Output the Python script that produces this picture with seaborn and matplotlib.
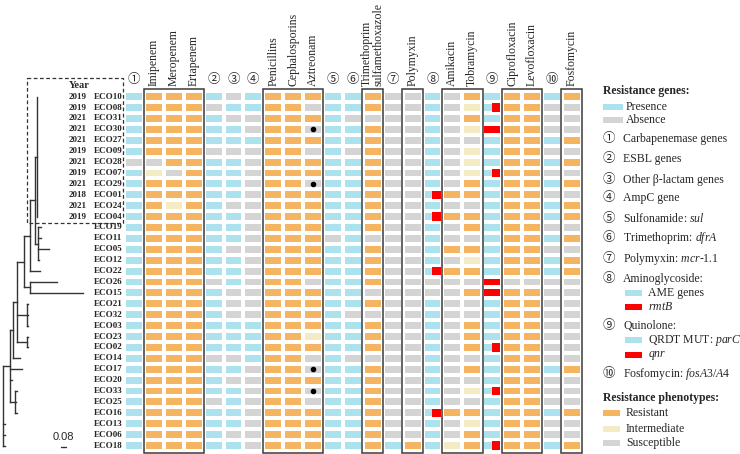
"""Core-genome tree with resistance genes and phenotypes of E. coli isolates"""
import matplotlib
matplotlib.use("Agg")
import matplotlib.pyplot as plt
from matplotlib.colors import ListedColormap
from matplotlib.patches import Rectangle
from matplotlib.transforms import blended_transform_factory
import pandas as pd
import seaborn as sns


BLUE = "#abe2ee"
GRAY = "#d4d4d4"
ORANGE = "#f4b462"
BEIGE = "#f2ebc3"
RED = "#ff0000"
LINE = "#333333"

SAMPLES = ["ECO10", "ECO08", "ECO31", "ECO30", "ECO27", "ECO09", "ECO28",
           "ECO07", "ECO29", "ECO01", "ECO24", "ECO04", "ECO19", "ECO11",
           "ECO05", "ECO12", "ECO22", "ECO26", "ECO15", "ECO21", "ECO32",
           "ECO03", "ECO23", "ECO02", "ECO14", "ECO17", "ECO20", "ECO33",
           "ECO25", "ECO16", "ECO13", "ECO06", "ECO18"]
YEARS = ["2019", "2019", "2021", "2021", "2021", "2019", "2021", "2019",
         "2021", "2018", "2021", "2019"]

COLUMNS = ["①", "Imipenem", "Meropenem", "Ertapenem", "②", "③", "④",
           "Penicillins", "Cephalosporins", "Aztreonam", "⑤", "⑥",
           "Trimethoprim\nsulfamethoxazole", "⑦", "Polymyxin", "⑧",
           "Amikacin", "Tobramycin", "⑨", "Ciprofloxacin", "Levofloxacin",
           "⑩", "Fosfomycin"]
GENE_COLUMNS = ["①", "②", "③", "④", "⑤", "⑥", "⑦", "⑧", "⑨", "⑩"]

# one string per column, rows in SAMPLES order (spaces only split groups of 11)
# P presence, A absence, R resistant, I intermediate, S susceptible,
# Q red gene only (qnr without parC)
CARBAPENEMASE = "PPPPPPAPPPP PPPPPPPPPPP PPPPPPPPPPP"
IMIPENEM = "RRRRRRSIRRR RRRRRRRRRRR RRRRRRRRRRR"
MEROPENEM = "RRRRRRRSRRI RRRRRRRRRRR RRRRRRRRRRR"
ERTAPENEM = "RRRRRRRRRRR RRRRRRRRRRR RRRRRRRRRRR"
ESBL = "PAPPPAPPPPP PPPPPPAPPPP PPAPPPAPPPP"
OTHER_BLACTAM = "APAPPAPPPPA PPPAPPPAAAP PPAPAPPPPAP"
AMPC = "PPAAPAAAAAA AAAAAAAAAAP PPPAAAAAAAA"
PENICILLINS = "RRRRRRRRRRR RRRRRRRRRRR RRRRRRRRRRR"
CEPHALOSPORINS = "RRRRRRRRRRR RRRRRRRRRRR RRRRRRRRRRR"
AZTREONAM = "RSRSRSRRSRR RRRRRRSRRRR IRSSRSSRRRR"
SUL = "PPPPPPPPPPP PPAPPPPPPPP PPPPPPPPPPP"
DFRA = "PPAPPAPPPPP PPPPPPPPPAP PPAPPPPPPPP"
SXT = "RRSRRRRRRRR RRSRRRRSRSR RRSRRRRRRRR"
MCR = "AAAAAAAAAAA AAAAAAAAAAA AAAAAAAAAAP"
POLYMYXIN = "SSSSSSSSSSS SSSSSSSSSSS SSSSSSSSSSR"
AME = "PPPPPPPPPPP PPPPPPAAPPP PPPPPPPPPPP"
AMIKACIN = "SSSSSSSSSRS RSSRSRSSSSS SSSSSSSRSSI"
TOBRAMYCIN = "RIRISIIIRRS RRSRIRSRSSR RRSRSISRIRR"
QUINOLONE = "PPPQPPPPPPP PPPPPPQQPPP PPPPPPPPPPP"
CIPROFLOXACIN = "RRRRRRRRRRR RRRRRRSRRRR RRRRRRRRRRR"
LEVOFLOXACIN = "RRRRRRRRRRR RRRRRRSRRRR RRRRRRRRRRR"
FOSA = "PAAAPAPAPAP PAPAPPAAAAA AAAPAAAPAAP"
FOSFOMYCIN = "RSSSRSRSRSR RSRSRRSSSSS SSSRSSSRSSR"
VALUES = [CARBAPENEMASE, IMIPENEM, MEROPENEM, ERTAPENEM, ESBL, OTHER_BLACTAM,
          AMPC, PENICILLINS, CEPHALOSPORINS, AZTREONAM, SUL, DFRA, SXT, MCR,
          POLYMYXIN, AME, AMIKACIN, TOBRAMYCIN, QUINOLONE, CIPROFLOXACIN,
          LEVOFLOXACIN, FOSA, FOSFOMYCIN]
CODES = {"P": 0, "A": 1, "S": 1, "R": 2, "I": 3, "Q": 4}

RMTB = ["ECO01", "ECO04", "ECO22", "ECO16"]          # red next to AME genes
QNR = ["ECO08", "ECO07", "ECO02", "ECO33", "ECO18"]  # red next to parC
AZT_DOTS = ["ECO30", "ECO29", "ECO17", "ECO33"]

BOXES = [("Imipenem", "Ertapenem"), ("Penicillins", "Aztreonam"),
         ("Trimethoprim\nsulfamethoxazole", "Trimethoprim\nsulfamethoxazole"),
         ("Polymyxin", "Polymyxin"), ("Amikacin", "Tobramycin"),
         ("Ciprofloxacin", "Levofloxacin"), ("Fosfomycin", "Fosfomycin")]

# (branch length, children) for nodes, (branch length, name) for tips
TREE = (0.0, [
    (0.112, [
        (0.048, [
            (0.064, [
                (0.112, [
                    (0.096, [
                        (0.080, [
                            (0.024, [(0.008, "ECO10"), (0.008, "ECO08"),
                                     (0.008, "ECO31"), (0.008, "ECO30"),
                                     (0.008, "ECO27"), (0.008, "ECO09"),
                                     (0.008, "ECO28"), (0.008, "ECO07"),
                                     (0.008, "ECO29"), (0.008, "ECO01"),
                                     (0.008, "ECO24"), (0.008, "ECO04")]),
                            (0.048, [(0.048, "ECO19"), (0.048, "ECO11"),
                                     (0.176, "ECO05"), (0.016, "ECO12")]),
                        ]),
                        (0.160, "ECO22"),
                    ]),
                    (0.096, [(0.432, "ECO26"), (0.848, "ECO15")]),
                ]),
                (0.160, [(0.016, "ECO21"), (0.016, "ECO32"), (0.016, "ECO03")]),
                (0.160, [(0.016, "ECO23"), (0.016, "ECO02")]),
            ]),
            (0.112, "ECO14"),
        ]),
        (0.192, "ECO17"),
        (0.032, "ECO20"),
        (0.080, [(0.032, "ECO33"), (0.016, "ECO25"), (0.032, "ECO16")]),
    ]),
    (0.032, "ECO13"),
    (0.032, "ECO06"),
    (0.032, "ECO18"),
])

GENE_KEYS = [("①", "Carbapenemase genes", 139),
             ("②", "ESBL genes", 159),
             ("③", "Other β-lactam genes", 180),
             ("④", "AmpC gene", 198),
             ("⑤", r"Sulfonamide: $\mathit{sul}$", 219),
             ("⑥", r"Trimethoprim: $\mathit{dfrA}$", 238),
             ("⑦", r"Polymyxin: $\mathit{mcr}$-$\mathit{1.1}$", 259),
             ("⑧", "Aminoglycoside:", 279),
             ("⑨", "Quinolone:", 326),
             ("⑩", r"Fosfomycin: $\mathit{fosA3/A4}$", 374)]
SUB_KEYS = [(BLUE, "AME genes", 293), (RED, r"$\mathit{rmtB}$", 307),
            (BLUE, r"QRDT MUT: $\mathit{parC}$", 340), (RED, r"$\mathit{qnr}$", 355)]
PHENO_KEYS = [(ORANGE, "Resistant", 413), (BEIGE, "Intermediate", 429),
              (GRAY, "Susceptible", 443)]


def layout(node, x0, segs):
    """Returns y of node, collecting line segments of the tree"""
    bl, content = node
    x = x0 + bl
    if isinstance(content, str):
        y = SAMPLES.index(content) + 0.5
    else:
        ys = [layout(ch, x, segs) for ch in content]
        segs.append(((x, x), (ys[0], ys[-1])))
        y = (ys[0] + ys[-1]) / 2
    segs.append(((x0, x), (y, y)))
    return y


def draw_tree(ax):
    segs = []
    layout(TREE, 0.0, segs)
    for xs, ys in segs:
        ax.plot(xs, ys, color=LINE, lw=1.0, solid_capstyle="projecting")
    ax.set_xlim(-0.048, 1.936)
    ax.set_ylim(len(SAMPLES), 0)
    ax.axis("off")

    # scale bar
    ax.plot([0.93, 1.01], [32.6, 32.6], color=LINE, lw=1.0)
    ax.text(0.97, 31.75, "0.08", ha="center", va="center", fontsize=8,
            family="Liberation Sans")

    trans = blended_transform_factory(ax.transAxes, ax.transData)
    for i, year in enumerate(YEARS):
        ax.text(0.702, i + 0.5, year, transform=trans, ha="right", va="center",
                fontsize=6.5, fontweight="bold")
    ax.text(0.72, -0.5, "Year", transform=trans, ha="right", va="center",
            fontsize=7.5, fontweight="bold")
    ax.add_patch(Rectangle((27 / 124, -1.2), 96 / 124, 13.3, transform=trans,
                           fill=False, ec=LINE, lw=0.9, ls=(0, (3, 2)),
                           clip_on=False))


def draw_grid(ax):
    df = pd.DataFrame({c: [CODES[v] for v in s.replace(" ", "")]
                       for c, s in zip(COLUMNS, VALUES)}, index=SAMPLES)
    cmap = ListedColormap([BLUE, GRAY, ORANGE, BEIGE, RED])
    sns.heatmap(df, ax=ax, cmap=cmap, vmin=-0.5, vmax=4.5, cbar=False,
                linewidths=2.6, linecolor="white",
                xticklabels=True, yticklabels=True)

    ax.tick_params(axis="x", top=True, bottom=False, labeltop=True,
                   labelbottom=False, length=0, pad=4)
    ax.tick_params(axis="y", length=0, pad=1)
    for lab in ax.get_xticklabels():
        if lab.get_text() in GENE_COLUMNS:
            lab.set_rotation(0)
            lab.set_fontsize(9)
        else:
            lab.set_rotation(90)
            lab.set_fontsize(8.5)
            lab.set_multialignment("left")
            lab.set_linespacing(0.95)
        lab.set_va("bottom")
        lab.set_ha("center")
    ax.set_yticklabels(SAMPLES, rotation=0, fontsize=6.5, fontweight="bold")
    ax.set_xlabel("")
    ax.set_ylabel("")

    for col, names in (("⑧", RMTB), ("⑨", QNR)):
        c = COLUMNS.index(col)
        for s in names:
            r = SAMPLES.index(s)
            ax.add_patch(Rectangle((c + 0.5, r + 0.12), 0.41, 0.76,
                                   color=RED, lw=0))

    c = COLUMNS.index("Aztreonam")
    rows = [SAMPLES.index(s) + 0.5 for s in AZT_DOTS]
    ax.scatter([c + 0.5] * len(rows), rows, s=9, color="black", zorder=4)

    for first, last in BOXES:
        c0, c1 = COLUMNS.index(first), COLUMNS.index(last)
        ax.add_patch(Rectangle((c0 - 0.02, -0.2), c1 - c0 + 1.04, 33.4,
                               fill=False, ec="#3a3a3a", lw=1.1,
                               clip_on=False, zorder=5))


def draw_legend(ax):
    ax.set_xlim(595, 740)
    ax.set_ylim(454, 0)
    ax.axis("off")
    ax.text(603, 91, "Resistance genes:", fontsize=8.5, fontweight="bold",
            va="center")
    for color, label, y in ((BLUE, "Presence", 107), (GRAY, "Absence", 120)):
        ax.add_patch(Rectangle((603, y - 3.2), 20, 6.5, color=color, lw=0))
        ax.text(626, y, label, fontsize=8.5, va="center")
    for key, label, y in GENE_KEYS:
        ax.text(609, y, key, fontsize=9, ha="center", va="center")
        ax.text(623, y, label, fontsize=8.5, va="center")
    for color, label, y in SUB_KEYS:
        ax.add_patch(Rectangle((625, y - 3.2), 17, 6.5, color=color, lw=0))
        ax.text(648, y, label, fontsize=8.5, va="center")
    ax.text(603, 398, "Resistance phenotypes:", fontsize=8.5,
            fontweight="bold", va="center")
    for color, label, y in PHENO_KEYS:
        ax.add_patch(Rectangle((603, y - 3.2), 17, 6.5, color=color, lw=0))
        ax.text(626, y, label, fontsize=8.5, va="center")


def plot_resistance():
    sns.set_style("white")
    plt.rcParams["font.family"] = ["Liberation Serif", "Noto Sans CJK SC",
                                   "DejaVu Sans"]
    plt.rcParams["mathtext.fontset"] = "custom"
    plt.rcParams["mathtext.rm"] = "Liberation Serif"
    plt.rcParams["mathtext.it"] = "Liberation Serif:italic"

    W, H = 740, 454
    fig = plt.figure(figsize=(W / 100, H / 100), dpi=100)

    def px_axes(x0, y0, x1, y1):
        return fig.add_axes([x0 / W, 1 - y1 / H, (x1 - x0) / W, (y1 - y0) / H])

    ax_grid = px_axes(124, 91.2, 581.7, 451.0)
    ax_tree = px_axes(0, 91.2, 124, 451.0)
    ax_leg = px_axes(595, 0, 740, 454)

    draw_grid(ax_grid)
    draw_tree(ax_tree)
    draw_legend(ax_leg)

    fig.savefig("out.png", dpi=100)


if __name__ == "__main__":
    plot_resistance()
